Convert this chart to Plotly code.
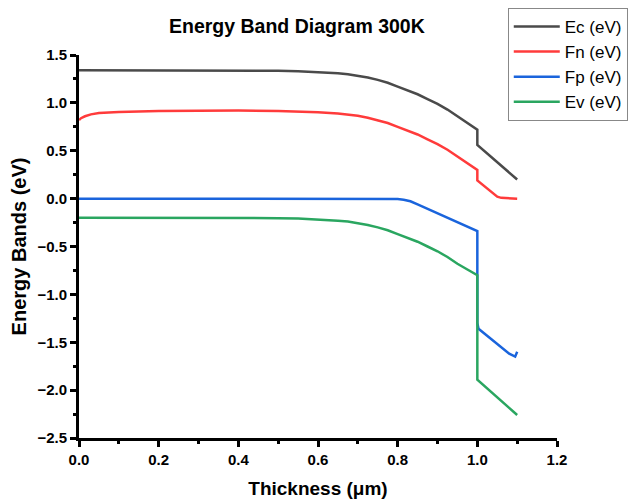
import plotly.graph_objects as go

# Thickness (um) and band energies (eV)
ec_x = [0.0, 0.1, 0.2, 0.3, 0.4, 0.5, 0.55, 0.6, 0.65, 0.675, 0.7, 0.725, 0.75, 0.775, 0.8,
        0.825, 0.85, 0.875, 0.9, 0.925, 0.95, 0.975, 1.0, 1.0, 1.05, 1.1]
ec_y = [1.34, 1.34, 1.34, 1.34, 1.338, 1.335, 1.33, 1.322, 1.31, 1.30, 1.285, 1.265, 1.24, 1.21, 1.17,
        1.13, 1.09, 1.04, 0.99, 0.93, 0.86, 0.79, 0.72, 0.56, 0.38, 0.20]

fn_x = [0.0, 0.005, 0.015, 0.03, 0.05, 0.1, 0.2, 0.3, 0.4, 0.5, 0.55, 0.6, 0.65, 0.675, 0.7, 0.725,
        0.75, 0.775, 0.8, 0.825, 0.85, 0.875, 0.9, 0.925, 0.95, 0.975, 1.0, 1.0, 1.01, 1.025, 1.04,
        1.05, 1.06, 1.075, 1.1]
fn_y = [0.82, 0.84, 0.86, 0.88, 0.895, 0.905, 0.915, 0.92, 0.92, 0.915, 0.91, 0.902, 0.89, 0.88, 0.865, 0.845,
        0.82, 0.79, 0.75, 0.71, 0.67, 0.62, 0.57, 0.51, 0.44, 0.37, 0.30, 0.19, 0.155, 0.10, 0.045,
        0.02, 0.008, 0.003, 0.0]

fp_x = [0.0, 0.2, 0.4, 0.6, 0.78, 0.8, 0.815, 0.832, 0.85, 0.9, 0.95, 1.0, 1.0, 1.003, 1.03, 1.06,
        1.08, 1.095, 1.1]
fp_y = [0.0, 0.0, 0.0, 0.0, 0.0, -0.004, -0.012, -0.028, -0.06, -0.155, -0.25, -0.34, -1.30, -1.36,
        -1.45, -1.55, -1.62, -1.65, -1.60]

ev_x = [0.0, 0.1, 0.2, 0.3, 0.4, 0.5, 0.55, 0.6, 0.65, 0.675, 0.7, 0.725, 0.75, 0.775, 0.8,
        0.825, 0.85, 0.875, 0.9, 0.925, 0.95, 0.975, 1.0, 1.0, 1.1]
ev_y = [-0.20, -0.20, -0.20, -0.20, -0.201, -0.204, -0.208, -0.217, -0.23, -0.24, -0.255, -0.275, -0.30,
        -0.33, -0.37, -0.41, -0.45, -0.50, -0.55, -0.61, -0.68, -0.74, -0.80, -1.89, -2.26]

series = [
    ("Ec (eV)", ec_x, ec_y, "#4a4a4a"),
    ("Fn (eV)", fn_x, fn_y, "#ff3b3b"),
    ("Fp (eV)", fp_x, fp_y, "#1a64dc"),
    ("Ev (eV)", ev_x, ev_y, "#2aa660"),
]

FONT = "Arial, Liberation Sans, sans-serif"

fig = go.Figure()
for name, xs, ys, col in series:
    fig.add_trace(go.Scatter(x=xs, y=ys, name=name, mode="lines",
                             line=dict(color=col, width=2.5)))

axis_common = dict(
    showline=True, linecolor="black", linewidth=3,
    ticks="outside", ticklen=6, tickwidth=3, tickcolor="black",
    showgrid=False, zeroline=False, mirror=False,
    tickfont=dict(family=FONT, size=15, color="black", weight="bold"),
)

fig.update_xaxes(range=[0, 1.2], dtick=0.2, tick0=0, tickformat=".1f",
                 title_text="Thickness (\u03bcm)", title_standoff=25,
                 title_font=dict(family=FONT, size=19, color="black", weight="bold"),
                 ticklabelstandoff=0,
                 minor=dict(dtick=0.1, ticks="outside", ticklen=3, tickwidth=3, tickcolor="black"),
                 **axis_common)
fig.update_yaxes(range=[-2.5, 1.5], dtick=0.5, tick0=0, tickformat=".1f",
                 title_text="Energy Bands (eV)", title_standoff=6,
                 title_font=dict(family=FONT, size=20, color="black", weight="bold"),
                 minor=dict(dtick=0.25, ticks="outside", ticklen=3, tickwidth=3, tickcolor="black"),
                 **axis_common)

fig.update_layout(
    width=629, height=499,
    margin=dict(l=79, r=72, t=55, b=61, autoexpand=False),
    plot_bgcolor="white", paper_bgcolor="white",
    title=dict(text="Energy Band Diagram 300K", x=0.472, xanchor="center",
               y=0.948, yanchor="middle",
               font=dict(family=FONT, size=19.5, color="black", weight="bold")),
    legend=dict(x=0.897, y=1.123, xanchor="left", yanchor="top",
                bordercolor="#888888", borderwidth=1, bgcolor="white",
                font=dict(family=FONT, size=17, color="black"),
                itemwidth=46, tracegroupgap=0),
    showlegend=True,
)

fig.write_html("out.html")
